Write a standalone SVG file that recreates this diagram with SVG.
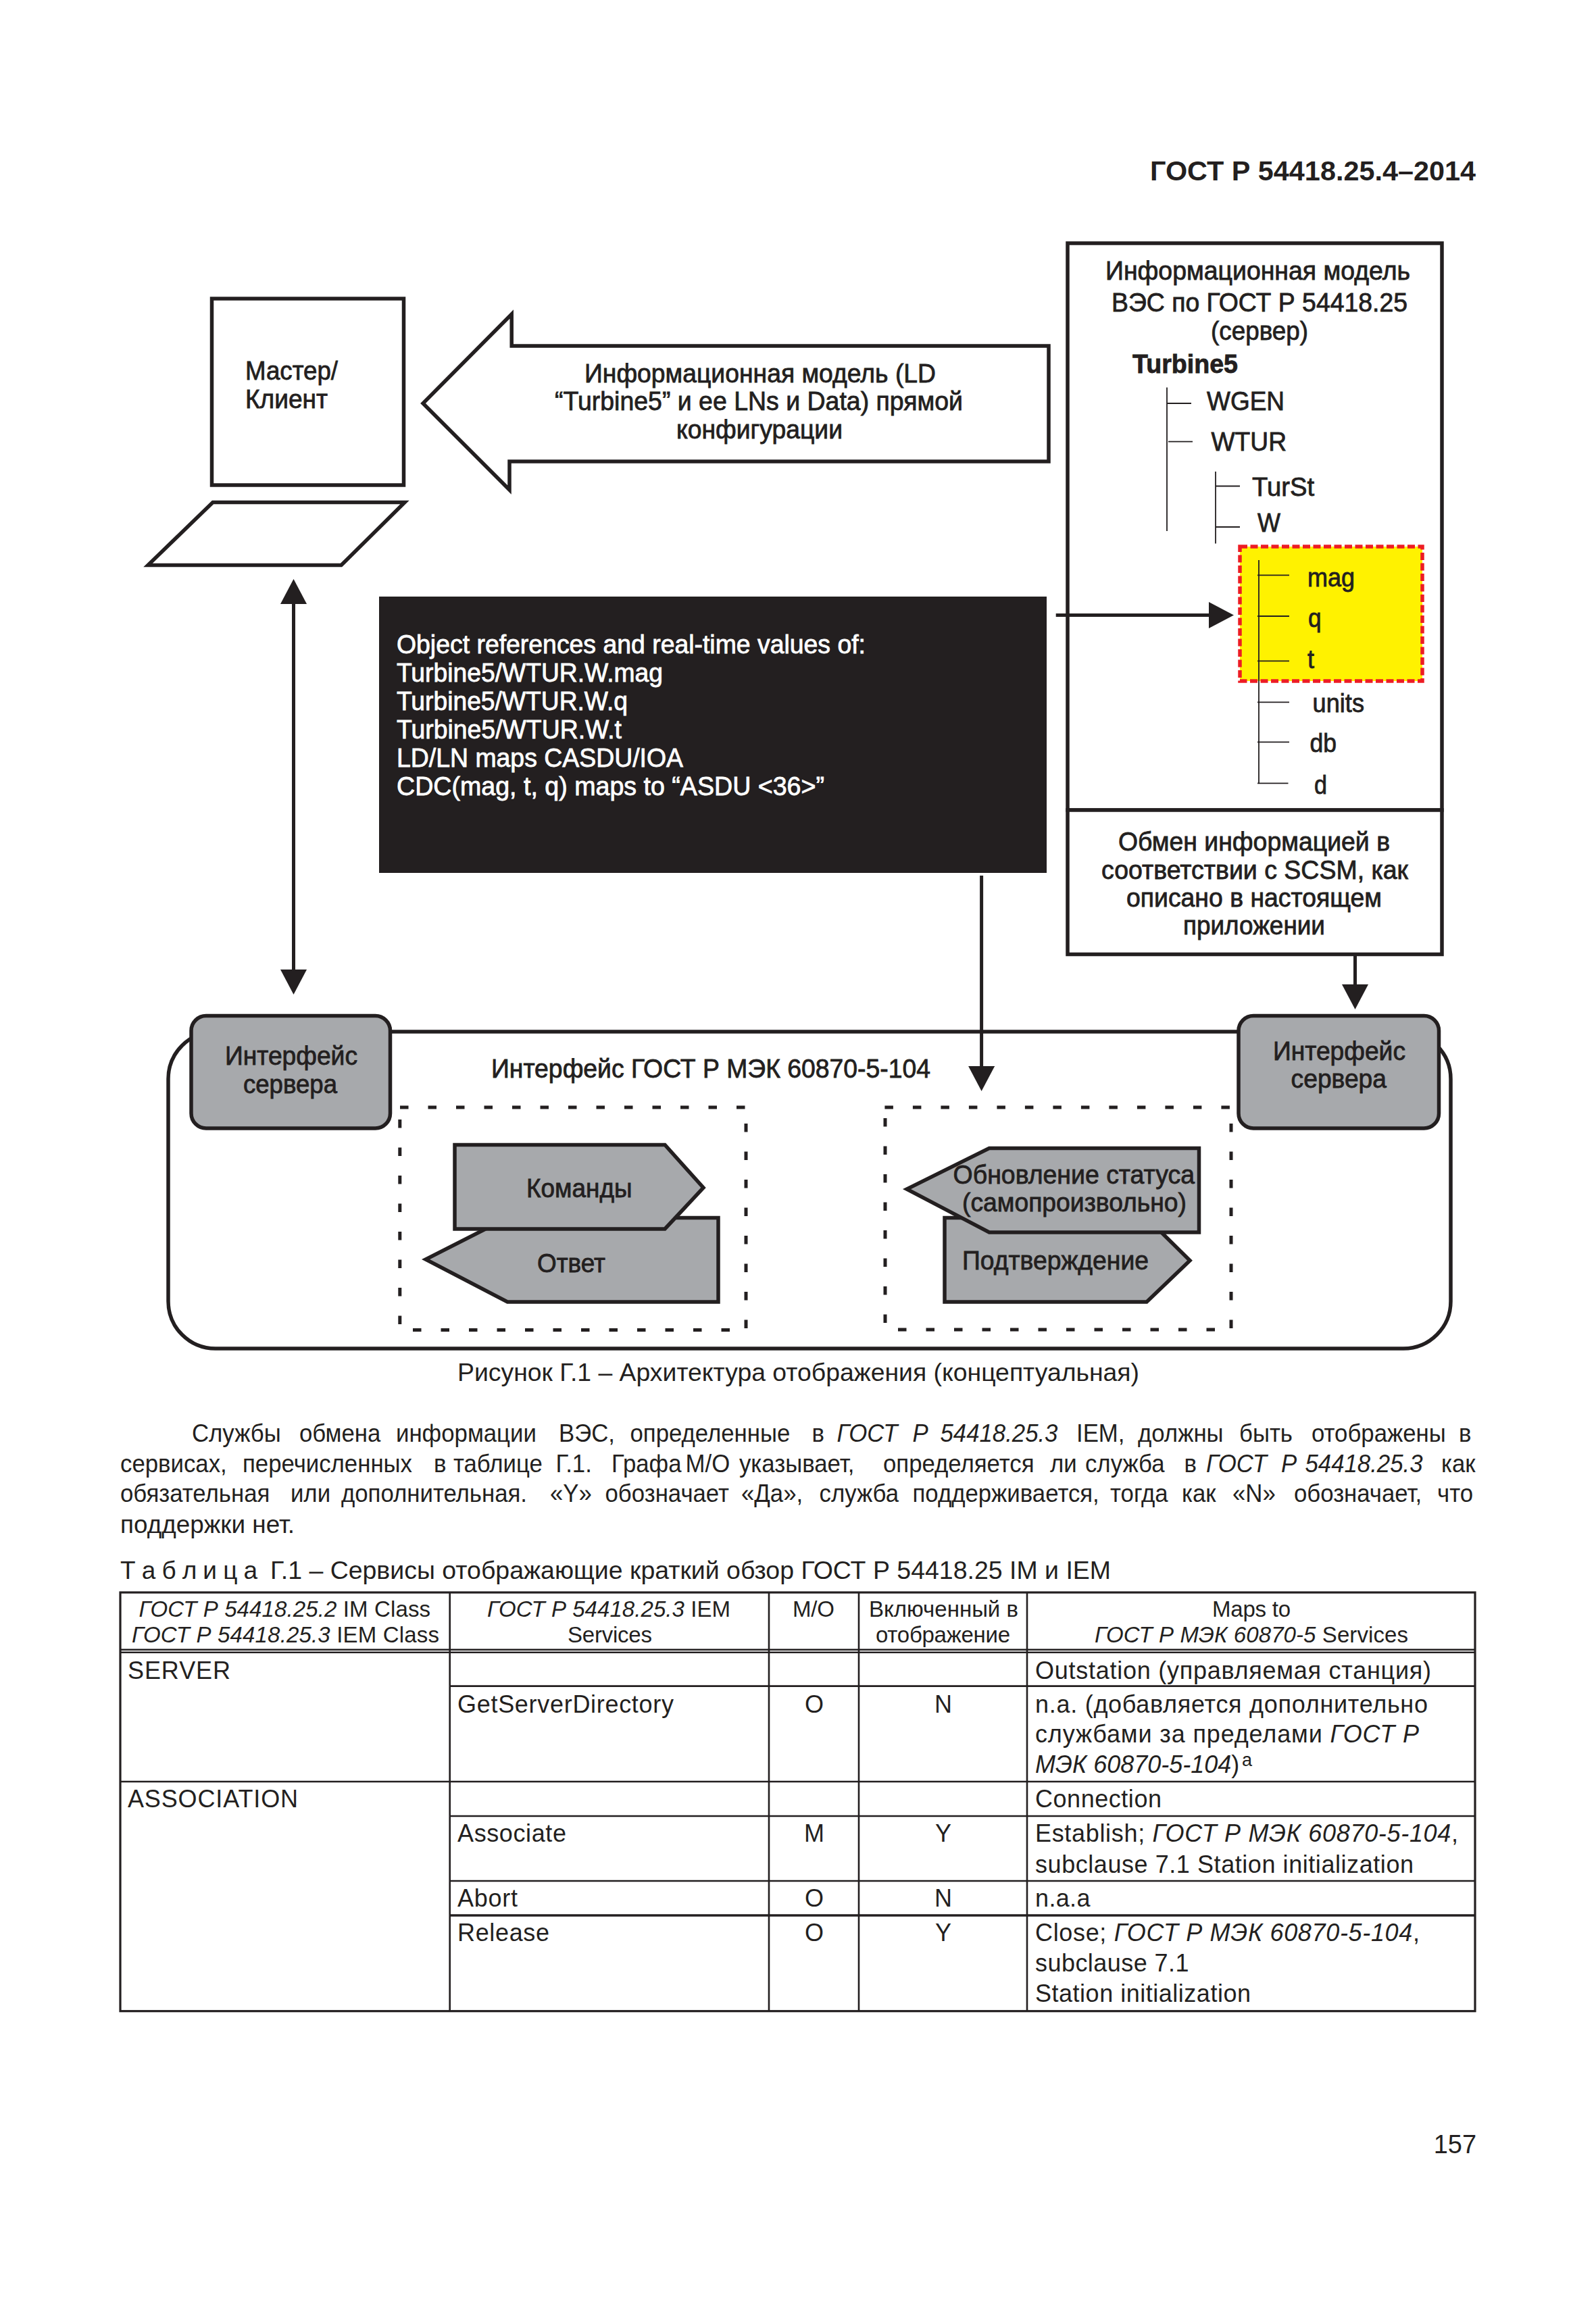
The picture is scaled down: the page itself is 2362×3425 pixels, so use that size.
<svg xmlns="http://www.w3.org/2000/svg" width="2362" height="3425" viewBox="0 0 2362 3425">
<style>
text{font-family:"Liberation Sans",Arial,sans-serif;fill:#231f20}
.d{font-size:38px;stroke:#231f20;stroke-width:.8}
.w{font-size:38px;fill:#fff;stroke:#fff;stroke-width:.8}
.b{font-size:37px}
.c{font-size:36px}
.h{font-size:33px}
.m{text-anchor:middle}
.s{fill:#fff;stroke:#231f20;stroke-width:5.5;stroke-miterlimit:10}
.g{fill:#a7a9ac;stroke:#231f20;stroke-width:5.5;stroke-miterlimit:10}
.t{fill:none;stroke:#231f20;stroke-width:1.8}
.dash{fill:none;stroke:#231f20;stroke-width:5;stroke-dasharray:12.5 29}
.tb{fill:none;stroke:#231f20;stroke-width:2.6}
.cn{fill:none;stroke:#231f20;stroke-width:5}
.i{font-style:italic}
</style>
<defs>
<marker id="ah" markerUnits="userSpaceOnUse" markerWidth="37" markerHeight="39" viewBox="0 0 37 39" refX="0" refY="19.5" orient="auto-start-reverse"><path d="M0 0L37 19.5L0 39Z" fill="#231f20"/></marker>
</defs>
<rect width="2362" height="3425" fill="#fff"/>
<text id="header" x="1702" y="266.7" font-size="41.5" font-weight="700" textLength="482" lengthAdjust="spacingAndGlyphs">ГОСТ Р 54418.25.4–2014</text>

<g id="master">
<rect class="s" x="313.5" y="442" width="284" height="276"/>
<text class="d" x="363" y="561.6" textLength="137" lengthAdjust="spacingAndGlyphs">Мастер/</text>
<text class="d" x="363" y="604" textLength="122" lengthAdjust="spacingAndGlyphs">Клиент</text>
</g>
<g id="keyboard"><path class="s" d="M315 743.5H599L505 836.5H219Z"/></g>
<g id="config-arrow">
<path class="s" d="M1552 512H757.2V465L626 597L754 725V683H1552Z"/>
<text class="d" x="865" y="566" textLength="520" lengthAdjust="spacingAndGlyphs">Информационная модель (LD</text>
<text class="d" x="821" y="607" textLength="604" lengthAdjust="spacingAndGlyphs">“Turbine5” и ее LNs и Data) прямой</text>
<text class="d" x="1001" y="648.6" textLength="246" lengthAdjust="spacingAndGlyphs">конфигурации</text>
</g>
<g id="model">
<rect class="s" x="1580" y="360" width="554" height="839"/>
<text class="d" x="1636" y="413.7" textLength="451" lengthAdjust="spacingAndGlyphs">Информационная модель</text>
<text class="d" x="1645" y="460.7" textLength="438" lengthAdjust="spacingAndGlyphs">ВЭС по ГОСТ Р 54418.25</text>
<text class="d" x="1792" y="503" textLength="144" lengthAdjust="spacingAndGlyphs">(сервер)</text>
<text class="d" x="1676" y="552" font-weight="700" textLength="156" lengthAdjust="spacingAndGlyphs">Turbine5</text>
<rect x="1835" y="809" width="270" height="199" fill="#fff200" stroke="#ed1c24" stroke-width="5.5" stroke-dasharray="11 4.5"/>
<path class="t" d="M1727 573.6V786M1727 597H1763M1729 653.6H1765M1799 698V804.4M1799 719.5H1835M1799 780H1835M1863 829V1159.4M1861 851.4H1908M1861 912H1908M1861 978.4H1908M1861 1039.4H1908M1861 1098.4H1908M1861 1159.4H1906.5"/>
<text class="d" x="1786" y="606.6" textLength="115" lengthAdjust="spacingAndGlyphs">WGEN</text>
<text class="d" x="1792.5" y="667" textLength="111.5" lengthAdjust="spacingAndGlyphs">WTUR</text>
<text class="d" x="1853" y="733.6" textLength="92" lengthAdjust="spacingAndGlyphs">TurSt</text>
<text class="d" x="1861" y="787" textLength="34" lengthAdjust="spacingAndGlyphs">W</text>
<text class="d" x="1935" y="867.6" textLength="70" lengthAdjust="spacingAndGlyphs">mag</text>
<text class="d" x="1936" y="928" textLength="19.5" lengthAdjust="spacingAndGlyphs">q</text>
<text class="d" x="1935" y="989" textLength="10" lengthAdjust="spacingAndGlyphs">t</text>
<text class="d" x="1942.6" y="1054" textLength="76.4" lengthAdjust="spacingAndGlyphs">units</text>
<text class="d" x="1938.5" y="1113" textLength="39.5" lengthAdjust="spacingAndGlyphs">db</text>
<text class="d" x="1945" y="1175" textLength="19" lengthAdjust="spacingAndGlyphs">d</text>
</g>
<g id="exchange">
<rect class="s" x="1580" y="1199" width="554" height="213.5"/>
<text class="d" x="1655" y="1259" textLength="402" lengthAdjust="spacingAndGlyphs">Обмен информацией в</text>
<text class="d" x="1630" y="1301" textLength="454" lengthAdjust="spacingAndGlyphs">соответствии с SCSM, как</text>
<text class="d" x="1667" y="1342" textLength="378" lengthAdjust="spacingAndGlyphs">описано в настоящем</text>
<text class="d" x="1751" y="1383" textLength="210" lengthAdjust="spacingAndGlyphs">приложении</text>
</g>
<g id="values">
<rect x="561" y="883" width="988" height="409" fill="#231f20"/>
<text class="w" x="587" y="967.3" textLength="694" lengthAdjust="spacingAndGlyphs">Object references and real-time values of:</text>
<text class="w" x="587" y="1009" textLength="394" lengthAdjust="spacingAndGlyphs">Turbine5/WTUR.W.mag</text>
<text class="w" x="587" y="1051" textLength="342" lengthAdjust="spacingAndGlyphs">Turbine5/WTUR.W.q</text>
<text class="w" x="587" y="1092.7" textLength="333" lengthAdjust="spacingAndGlyphs">Turbine5/WTUR.W.t</text>
<text class="w" x="587" y="1135" textLength="424" lengthAdjust="spacingAndGlyphs">LD/LN maps CASDU/IOA</text>
<text class="w" x="587" y="1176.7" textLength="633" lengthAdjust="spacingAndGlyphs">CDC(mag, t, q) maps to “ASDU &lt;36&gt;”</text>
</g>
<g id="iec-interface">
<rect class="s" x="249" y="1527" width="1898" height="469" rx="70" ry="70"/>
<text class="d" x="727" y="1594.7" textLength="650" lengthAdjust="spacingAndGlyphs">Интерфейс ГОСТ Р МЭК 60870-5-104</text>
</g>
<g id="left-group">
<path class="dash" d="M592 1639H1104M591.8 1657V1968M611 1968.6H1080M1104 1663V1968"/>
</g>
<g id="right-group">
<path class="dash" d="M1309.4 1639H1822M1310 1655V1968M1329 1968H1800M1822 1663V1968"/>
</g>
<g id="otvet">
<path class="g" d="M1063 1802.5H751L630 1864L751 1927H1063Z"/>
<text class="d" x="795" y="1883" textLength="101" lengthAdjust="spacingAndGlyphs">Ответ</text>
</g>
<g id="komandy">
<path class="g" d="M673 1694.5H984L1041 1758L984 1819H673Z"/>
<text class="d" x="779" y="1772" textLength="156.6" lengthAdjust="spacingAndGlyphs">Команды</text>
</g>
<g id="podtverzhdenie">
<path class="g" d="M1398 1802.5H1697L1761 1865.7L1697 1927H1398Z"/>
<text class="d" x="1424" y="1879" textLength="276" lengthAdjust="spacingAndGlyphs">Подтверждение</text>
</g>
<g id="status">
<path class="g" d="M1774.5 1699.5H1464L1342 1760L1464 1824H1774.5Z"/>
<text class="d" x="1410.6" y="1751.6" textLength="357.4" lengthAdjust="spacingAndGlyphs">Обновление статуса</text>
<text class="d" x="1424" y="1793" textLength="332" lengthAdjust="spacingAndGlyphs">(самопроизвольно)</text>
</g>
<g id="server-left">
<rect class="g" x="283" y="1503.5" width="294.5" height="166.5" rx="22" ry="22"/>
<text class="d" x="333" y="1576" textLength="196" lengthAdjust="spacingAndGlyphs">Интерфейс</text>
<text class="d" x="360" y="1617.7" textLength="139" lengthAdjust="spacingAndGlyphs">сервера</text>
</g>
<g id="server-right">
<rect class="g" x="1833" y="1503.5" width="296.5" height="166.5" rx="22" ry="22"/>
<text class="d" x="1884" y="1569" textLength="196" lengthAdjust="spacingAndGlyphs">Интерфейс</text>
<text class="d" x="1910.6" y="1610" textLength="141.4" lengthAdjust="spacingAndGlyphs">сервера</text>
</g>
<g id="connectors">
<path class="cn" d="M434.5 894V1435" marker-start="url(#ah)" marker-end="url(#ah)"/>
<path class="cn" d="M1562.7 910.5H1789" marker-end="url(#ah)"/>
<path class="cn" d="M1452.6 1296V1578" marker-end="url(#ah)"/>
<path class="cn" d="M2005.5 1413V1457" marker-end="url(#ah)"/>
</g>

<text class="b" x="677" y="2044" textLength="1009" lengthAdjust="spacingAndGlyphs">Рисунок Г.1 – Архитектура отображения (концептуальная)</text>

<text class="b" y="2134.5" transform="scale(.94 1)"><tspan x="302.1">Службы</tspan><tspan x="471.3">обмена</tspan><tspan x="623.4">информации</tspan><tspan x="879.8">ВЭС,</tspan><tspan x="992">определенные</tspan><tspan x="1278.2">в</tspan><tspan x="1317.6" class="i">ГОСТ</tspan><tspan x="1436.7" class="i">Р</tspan><tspan x="1480.3" class="i">54418.25.3</tspan><tspan x="1694.7">IEM,</tspan><tspan x="1791.5">должны</tspan><tspan x="1951.1">быть</tspan><tspan x="2064.9">отображены</tspan><tspan x="2296.8">в</tspan></text>
<text class="b" y="2178.7" transform="scale(.94 1)"><tspan x="189.4">сервисах,</tspan><tspan x="381.9">перечисленных</tspan><tspan x="683">в</tspan><tspan x="713.8">таблице</tspan><tspan x="875.1">Г.1.</tspan><tspan x="962.8">Графа</tspan><tspan x="1079.3">М/О</tspan><tspan x="1163.8">указывает,</tspan><tspan x="1390.4">определяется</tspan><tspan x="1653.2">ли</tspan><tspan x="1708.5">служба</tspan><tspan x="1864.4">в</tspan><tspan x="1898.9" class="i">ГОСТ</tspan><tspan x="2017" class="i">Р</tspan><tspan x="2054.8" class="i">54418.25.3</tspan><tspan x="2269.1">как</tspan></text>
<text class="b" y="2223.5" transform="scale(.94 1)"><tspan x="189.4">обязательная</tspan><tspan x="457.4">или</tspan><tspan x="537.2">дополнительная.</tspan><tspan x="866">«Y»</tspan><tspan x="952.7">обозначает</tspan><tspan x="1167">«Да»,</tspan><tspan x="1289.9">служба</tspan><tspan x="1436.7">поддерживается,</tspan><tspan x="1747.9">тогда</tspan><tspan x="1860.6">как</tspan><tspan x="1940.4">«N»</tspan><tspan x="2037.2">обозначает,</tspan><tspan x="2262.8">что</tspan></text>
<text class="b" x="178" y="2269.4" textLength="258" lengthAdjust="spacingAndGlyphs">поддержки нет.</text>
<text class="b" x="178" y="2337" textLength="203">Т а б л и ц а</text>
<text class="b" x="400" y="2337" textLength="1244" lengthAdjust="spacingAndGlyphs">Г.1 – Сервисы отображающие краткий обзор ГОСТ Р 54418.25 IM и IEM</text>

<g id="table">
<rect class="tb" style="stroke-width:3.2" x="178" y="2357" width="2005" height="619.7"/>
<path class="tb" d="M665.7 2357V2977M1138 2357V2977M1271 2357V2977M1520 2357V2977M178 2441.7H2183M178 2445.7H2183M665.7 2495.6H2183M178 2637H2183M665.7 2688H2183M665.7 2784H2183"/>
<path class="tb" style="stroke-width:3.6" d="M665.7 2835H2183"/>
<text class="h" x="205.5" y="2393" textLength="431.5"><tspan class="i">ГОСТ Р 54418.25.2</tspan> IM Class</text>
<text class="h" x="195" y="2431" textLength="455"><tspan class="i">ГОСТ Р 54418.25.3</tspan> IEM Class</text>
<text class="h" x="721" y="2393" textLength="360"><tspan class="i">ГОСТ Р 54418.25.3</tspan> IEM</text>
<text class="h" x="840" y="2431" textLength="125">Services</text>
<text class="h" x="1173" y="2393" textLength="62">М/О</text>
<text class="h" x="1286" y="2393" textLength="221">Включенный в</text>
<text class="h" x="1296" y="2431" textLength="199">отображение</text>
<text class="h" x="1794" y="2393" textLength="116">Maps to</text>
<text class="h" x="1620" y="2431" textLength="464"><tspan class="i">ГОСТ Р МЭК 60870-5</tspan> Services</text>
<text class="c" x="189" y="2484.7" textLength="152">SERVER</text>
<text class="c" x="189" y="2675" textLength="252">ASSOCIATION</text>
<text class="c" x="677" y="2535" textLength="320">GetServerDirectory</text>
<text class="c" x="677" y="2726" textLength="161">Associate</text>
<text class="c" x="677" y="2822" textLength="89">Abort</text>
<text class="c" x="677" y="2873" textLength="136">Release</text>
<text class="c m" x="1205" y="2535">O</text>
<text class="c m" x="1205" y="2726">M</text>
<text class="c m" x="1205" y="2822">O</text>
<text class="c m" x="1205" y="2873">O</text>
<text class="c m" x="1396" y="2535">N</text>
<text class="c m" x="1396" y="2726">Y</text>
<text class="c m" x="1396" y="2822">N</text>
<text class="c m" x="1396" y="2873">Y</text>
<text class="c" x="1532" y="2484.7" textLength="586">Outstation (управляемая станция)</text>
<text class="c" x="1532" y="2535" textLength="581">n.a. (добавляется дополнительно</text>
<text class="c" x="1532" y="2579.4" textLength="568">службами за пределами <tspan class="i">ГОСТ Р</tspan></text>
<text class="c" x="1532" y="2624"><tspan class="i">МЭК 60870-5-104</tspan>)</text>
<text x="1838" y="2614" font-size="27">a</text>
<text class="c" x="1532" y="2675" textLength="187">Connection</text>
<text class="c" x="1532" y="2726" textLength="626">Establish; <tspan class="i">ГОСТ Р МЭК 60870-5-104</tspan>,</text>
<text class="c" x="1532" y="2771.7" textLength="560">subclause 7.1 Station initialization</text>
<text class="c" x="1532" y="2822" textLength="81.5">n.a.a</text>
<text class="c" x="1532" y="2873" textLength="569">Close; <tspan class="i">ГОСТ Р МЭК 60870-5-104</tspan>,</text>
<text class="c" x="1532" y="2918" textLength="227.5">subclause 7.1</text>
<text class="c" x="1532" y="2963" textLength="319">Station initialization</text>
</g>
<text x="2121.7" y="3186.7" font-size="38">157</text>
</svg>
